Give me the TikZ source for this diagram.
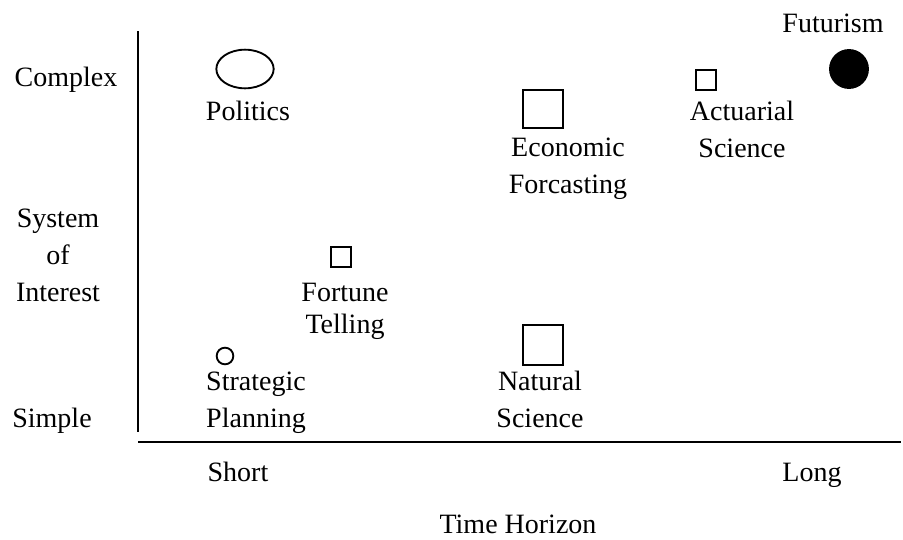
\documentclass[tikz,border=0pt]{standalone}
\usepackage{fontspec}
\setmainfont{Liberation Serif}
\usetikzlibrary{positioning,shapes.geometric}

\begin{document}
\begin{tikzpicture}[x=0.75pt,y=-0.75pt,thick,
    lbl node/.style={align=center,anchor=base,inner sep=0pt,font=\fontsize{21}{27.5}\selectfont},
    box node/.style={draw,line width=1.4pt,inner sep=0pt},
    axis line/.style={line width=1.5pt}]
    \useasboundingbox (0,0) rectangle (903,539);

    % axes
    \coordinate (ytop) at (138,31);
    \coordinate (ybot) at (138,432);
    \coordinate (xl) at (138,442);
    \coordinate (xr) at (901,442);
    \draw[axis line] (ytop) -- (ybot);
    \draw[axis line] (xl) -- (xr);

    % axis labels (base = last line)
    \node[lbl node] (cpx) at (66,86) {Complex};
    \node[lbl node] (sys) at (58,301) {System\\of\\Interest};
    \node[lbl node] (smp) at (52,427) {Simple};
    \node[lbl node] (sht) at (238,481) {Short};
    \node[lbl node] (lng) at (812,481) {Long};
    \node[lbl node] (hor) at (518,533) {Time Horizon};

    % markers
    \node[box node,ellipse,minimum width=43pt,minimum height=29pt] (pol) at (245,69) {};
    \node[box node,rectangle,minimum size=15pt] (fort) at (341,257) {};
    \node[box node,circle,minimum size=12.5pt] (strat) at (225,356) {};
    \node[box node,rectangle,minimum width=30.5pt,minimum height=29pt] (econ) at (543,109) {};
    \node[box node,rectangle,minimum size=15pt] (act) at (706,80) {};
    \node[box node,circle,fill=black,minimum size=28.5pt] (fut) at (849,69) {};
    \node[box node,rectangle,minimum width=30.5pt,minimum height=29.5pt] (nat) at (543,345) {};

    % marker labels
    \node[lbl node] (poltxt) at (248,120) {Politics};
    \node[lbl node,font=\fontsize{21}{23.5}\selectfont] (forttxt) at (345,333) {Fortune\\Telling};
    \node[lbl node] (strattxt) at (256,427) {Strategic\\Planning};
    \node[lbl node] (econtxt) at (568,193) {Economic\\Forcasting};
    \node[lbl node] (acttxt) at (742,157) {Actuarial\\Science};
    \node[lbl node] (futtxt) at (833,32) {Futurism};
    \node[lbl node] (nattxt) at (540,427) {Natural\\Science};
\end{tikzpicture}
\end{document}
